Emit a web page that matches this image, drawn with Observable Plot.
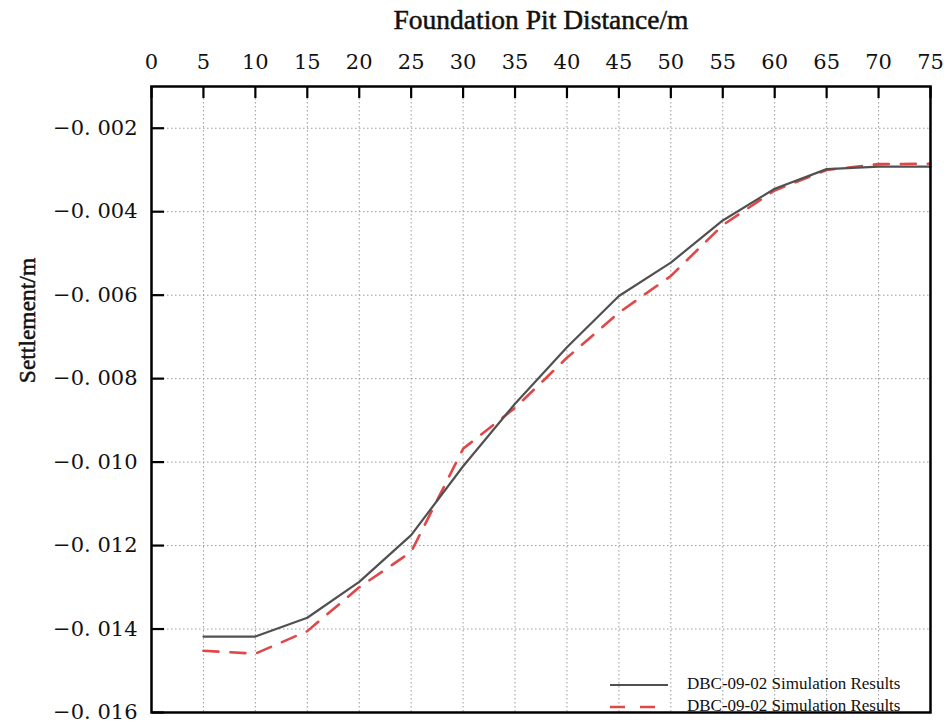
<!DOCTYPE html>
<html>
<head>
<meta charset="utf-8">
<script src="https://cdn.jsdelivr.net/npm/d3@7"></script>
<script src="https://cdn.jsdelivr.net/npm/@observablehq/plot@0.6"></script>
<style>
  html, body { margin: 0; padding: 0; background: #fff; }
  #chart svg { display: block; }
</style>
</head>
<body>
<div id="chart"></div>
<script>
// ---- data ----
const distance = [5, 10, 15, 20, 25, 30, 35, 40, 45, 50, 55, 60, 65, 70, 75];
const simSolid = [-0.01418, -0.01418, -0.01373, -0.01287, -0.01175, -0.0101, -0.0086, -0.00725, -0.00602, -0.00522, -0.00421, -0.00345, -0.00298, -0.00292, -0.00292];
const simDashed = [-0.01452, -0.01459, -0.01405, -0.01300, -0.01215, -0.00968, -0.0087, -0.0075, -0.00642, -0.00554, -0.00432, -0.00349, -0.00300, -0.00286, -0.00285];
const xTicks = [0, 5, 10, 15, 20, 25, 30, 35, 40, 45, 50, 55, 60, 65, 70, 75];
const yTicks = [-0.016, -0.014, -0.012, -0.010, -0.008, -0.006, -0.004, -0.002];
const xTitle = "Foundation Pit Distance/m";
const yTitle = "Settlement/m";
const seriesNames = ["DBC-09-02 Simulation Results", "DBC-09-02 Simulation Results"];

const solidData = distance.map((d, i) => ({x: d, y: simSolid[i]}));
const dashedData = distance.map((d, i) => ({x: d, y: simDashed[i]}));

const W = 944, H = 726;
const mL = 151, mR = 14, mT = 86, mB = 14;
const plotW = W - mL - mR, plotH = H - mT - mB;
const tickFont = "DejaVu Serif";
const serif = "Liberation Serif";

const fmtY = d => (d < 0 ? "\u2212" : "") + "0. " + String(Math.round(Math.abs(d) * 1000)).padStart(3, "0");

const chart = Plot.plot({
  width: W,
  height: H,
  marginLeft: mL,
  marginRight: mR,
  marginTop: mT,
  marginBottom: mB,
  style: {background: "#fff", color: "#111"},
  x: {domain: [0, 75]},
  y: {domain: [-0.016, -0.001]},
  marks: [
    Plot.gridX(xTicks.slice(1, -1), {stroke: "#9a9a9a", strokeOpacity: 1, strokeWidth: 1, strokeDasharray: "1.5,2.5"}),
    Plot.gridY(yTicks.slice(1), {stroke: "#9a9a9a", strokeOpacity: 1, strokeWidth: 1, strokeDasharray: "1.5,2.5"}),
    Plot.line(dashedData, {x: "x", y: "y", stroke: "#e04848", strokeWidth: 2.6, strokeDasharray: "15,12"}),
    Plot.line(solidData, {x: "x", y: "y", stroke: "#505050", strokeWidth: 2.2}),
    Plot.frame({stroke: "#000", strokeWidth: 2.5}),
    // tick labels
    Plot.axisX({anchor: "top", ticks: xTicks, tickSize: 0, tickPadding: 18, fontSize: 21, fontFamily: tickFont, label: null}),
    Plot.axisY({anchor: "left", ticks: yTicks, tickSize: 0, tickPadding: 14, fontSize: 21, fontFamily: tickFont, tickFormat: fmtY, label: null}),
    // inward tick marks
    Plot.axisX({anchor: "bottom", ticks: xTicks, tickSize: 12, tickFormat: () => "", label: null, dy: -plotH, strokeWidth: 2.2, stroke: "#000"}),
    Plot.axisY({anchor: "right", ticks: yTicks, tickSize: 12, tickFormat: () => "", label: null, dx: -plotW, strokeWidth: 2.2, stroke: "#000"}),
    // axis titles
    Plot.text([xTitle], {text: d => d, frameAnchor: "top", dy: -66, textAnchor: "middle", lineAnchor: "middle", fontSize: 27.5, fontFamily: serif, fill: "#111", stroke: "#111", strokeWidth: 0.5}),
    Plot.text([yTitle], {text: d => d, frameAnchor: "left", dx: -124, dy: -79, rotate: -90, textAnchor: "middle", lineAnchor: "middle", fontSize: 23.5, fontFamily: serif, fill: "#111", stroke: "#111", strokeWidth: 0.5})
  ]
});

document.getElementById("chart").appendChild(chart);

// ---- legend (inside the plot, bottom right) ----
const svg = d3.select(chart.tagName.toLowerCase() === "svg" ? chart : chart.querySelector("svg"));
const lg = svg.append("g").attr("font-family", serif).attr("font-size", 17).attr("fill", "#111").attr("text-anchor", "start");
const legendRows = [
  {y: 685, stroke: "#505050", dash: null, width: 2.2},
  {y: 707, stroke: "#e04848", dash: "15,15", width: 2.6}
];
legendRows.forEach((r, i) => {
  lg.append("line").attr("x1", 610).attr("x2", 668).attr("y1", r.y).attr("y2", r.y)
    .attr("stroke", r.stroke).attr("stroke-width", r.width).attr("stroke-dasharray", r.dash);
  lg.append("text").attr("x", 687).attr("y", r.y - 1).attr("dy", "0.32em").attr("text-anchor", "start").text(seriesNames[i]);
});
</script>
</body>
</html>
